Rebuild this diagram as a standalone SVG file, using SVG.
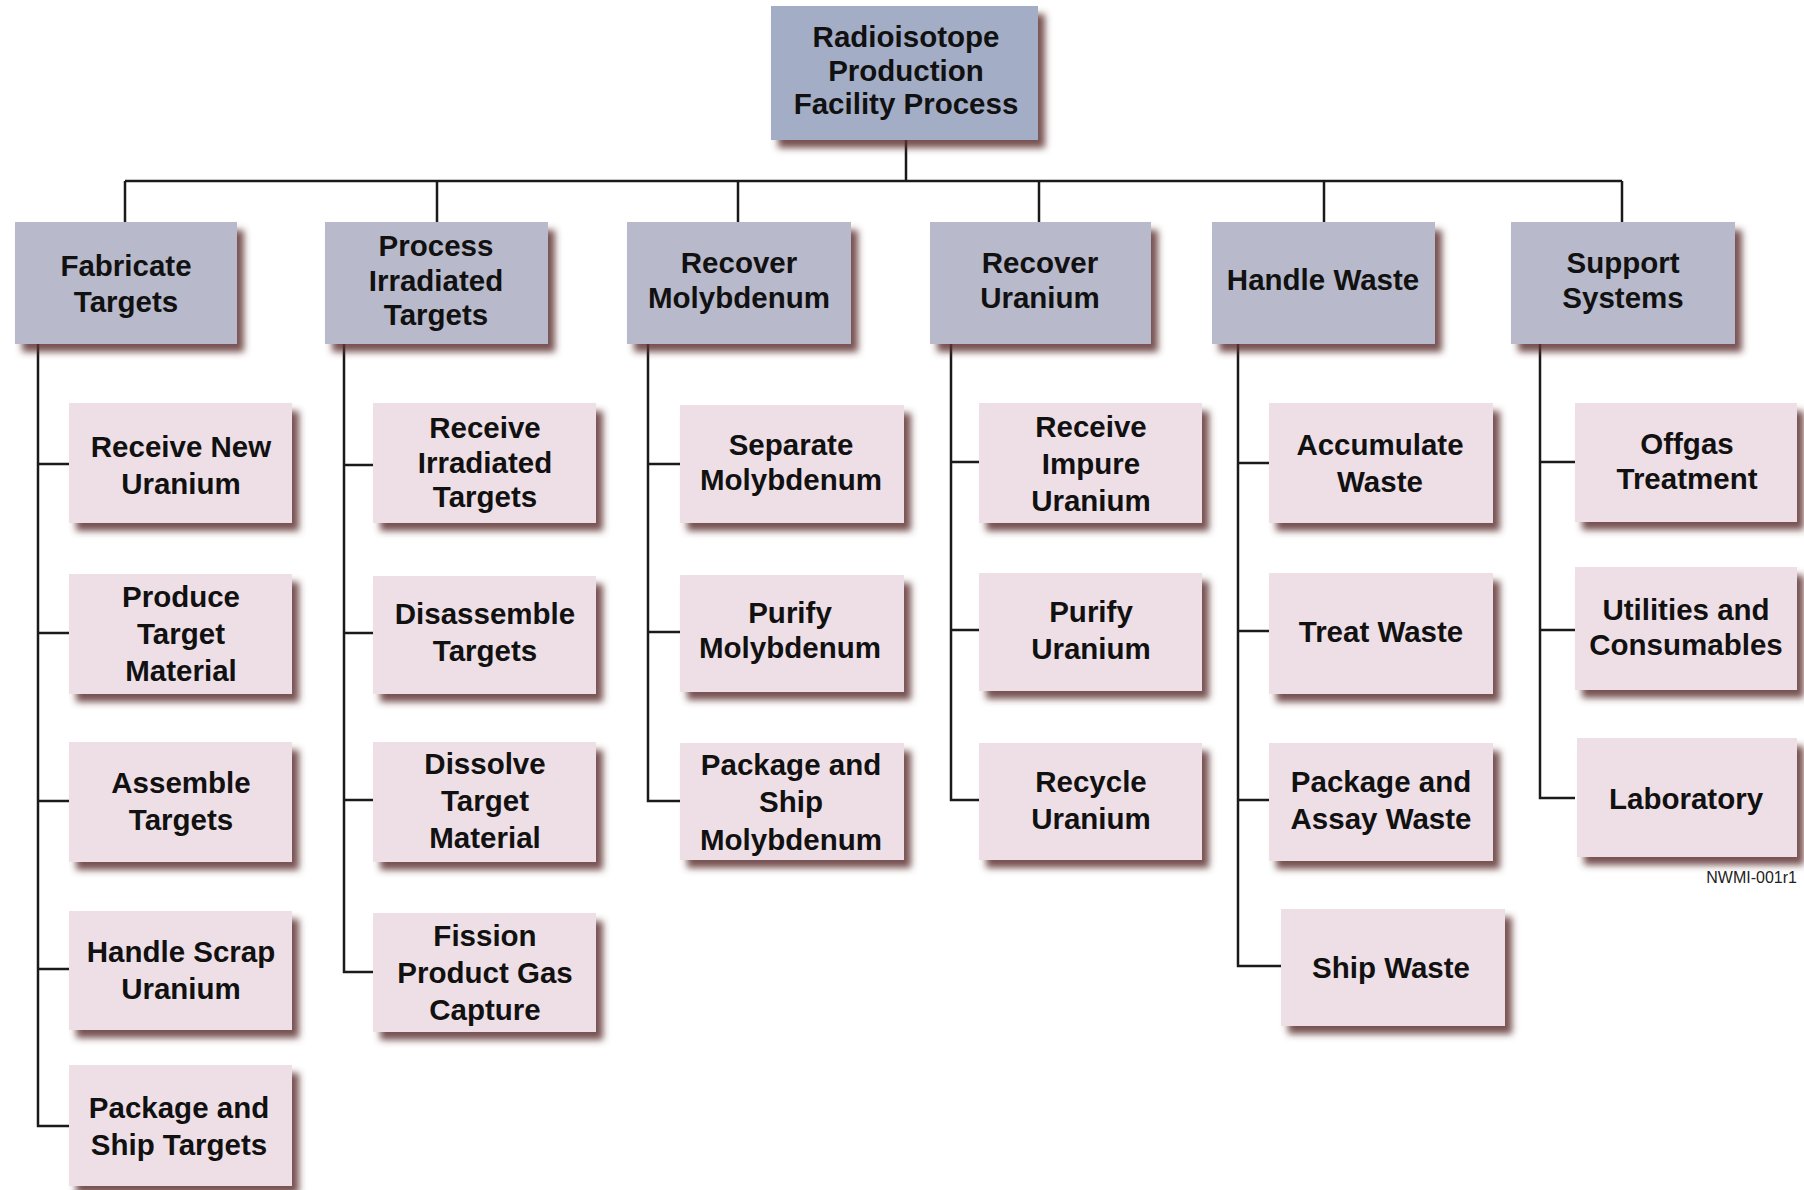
<svg xmlns="http://www.w3.org/2000/svg" width="1804" height="1190" viewBox="0 0 1804 1190">
<defs>
<filter id="sh" x="-10%" y="-10%" width="125%" height="130%">
<feDropShadow dx="7" dy="8" stdDeviation="3.5" flood-color="#5e3033" flood-opacity="0.85"/>
</filter>
<style>
.root{fill:#a4adc6;filter:url(#sh)}
.l1{fill:#b8b9cb;filter:url(#sh)}
.l2{fill:#eedfe6;filter:url(#sh)}
text{font-family:"Liberation Sans",Arial,sans-serif;font-weight:bold;font-size:29.5px;fill:#111111;text-anchor:middle}
.ref{font-weight:normal;font-size:16px;text-anchor:end;fill:#222}
.c{fill:none;stroke:#1a1a1a;stroke-width:2.5}
</style>
</defs>
<rect width="1804" height="1190" fill="#ffffff"/>
<g id="connectors">
<path class="c" d="M906 140V181M125 181H1622M125 181V222M437 181V222M738 181V222M1039 181V222M1324 181V222M1622 181V222"/>
<path class="c" d="M38 344V1126H69M38 464H69M38 633H69M38 801H69M38 969H69"/>
<path class="c" d="M344 344V972H373M344 465H373M344 633H373M344 800H373"/>
<path class="c" d="M648 344V801H680M648 464H680M648 632H680"/>
<path class="c" d="M951 344V800H979M951 462H979M951 630H979"/>
<path class="c" d="M1238 344V966H1281M1238 463H1269M1238 631H1269M1238 800H1269"/>
<path class="c" d="M1540 344V798H1575M1540 462H1575M1540 630H1575"/>
</g>
<g id="root"><rect class="root" x="771" y="6" width="267" height="134"/><text x="906"><tspan x="906" y="47">Radioisotope</tspan><tspan x="906" y="81">Production</tspan><tspan x="906" y="114">Facility Process</tspan></text></g>

<g id="fabricate"><rect class="l1" x="15" y="222" width="222" height="122"/><text><tspan x="126" y="276">Fabricate</tspan><tspan x="126" y="312">Targets</tspan></text></g>
<g id="process"><rect class="l1" x="325" y="222" width="223" height="122"/><text><tspan x="436" y="256">Process</tspan><tspan x="436" y="291">Irradiated</tspan><tspan x="436" y="325">Targets</tspan></text></g>
<g id="recover-mo"><rect class="l1" x="627" y="222" width="224" height="122"/><text><tspan x="739" y="273">Recover</tspan><tspan x="739" y="308">Molybdenum</tspan></text></g>
<g id="recover-u"><rect class="l1" x="930" y="222" width="221" height="122"/><text><tspan x="1040" y="273">Recover</tspan><tspan x="1040" y="308">Uranium</tspan></text></g>
<g id="handle-waste"><rect class="l1" x="1212" y="222" width="223" height="122"/><text><tspan x="1323" y="290">Handle Waste</tspan></text></g>
<g id="support"><rect class="l1" x="1511" y="222" width="224" height="122"/><text><tspan x="1623" y="273">Support</tspan><tspan x="1623" y="308">Systems</tspan></text></g>

<g id="receive-new-uranium"><rect class="l2" x="69" y="403" width="223" height="120"/><text><tspan x="181" y="457">Receive New</tspan><tspan x="181" y="494">Uranium</tspan></text></g>
<g id="produce-target-material"><rect class="l2" x="69" y="574" width="223" height="120"/><text><tspan x="181" y="607">Produce</tspan><tspan x="181" y="644">Target</tspan><tspan x="181" y="681">Material</tspan></text></g>
<g id="assemble-targets"><rect class="l2" x="69" y="742" width="223" height="120"/><text><tspan x="181" y="793">Assemble</tspan><tspan x="181" y="830">Targets</tspan></text></g>
<g id="handle-scrap-uranium"><rect class="l2" x="69" y="911" width="223" height="119"/><text><tspan x="181" y="962">Handle Scrap</tspan><tspan x="181" y="999">Uranium</tspan></text></g>
<g id="package-ship-targets"><rect class="l2" x="69" y="1065" width="223" height="121"/><text><tspan x="179" y="1118">Package and</tspan><tspan x="179" y="1155">Ship Targets</tspan></text></g>

<g id="receive-irradiated-targets"><rect class="l2" x="373" y="403" width="223" height="120"/><text><tspan x="485" y="438">Receive</tspan><tspan x="485" y="473">Irradiated</tspan><tspan x="485" y="507">Targets</tspan></text></g>
<g id="disassemble-targets"><rect class="l2" x="373" y="576" width="223" height="118"/><text><tspan x="485" y="624">Disassemble</tspan><tspan x="485" y="661">Targets</tspan></text></g>
<g id="dissolve-target-material"><rect class="l2" x="373" y="742" width="223" height="120"/><text><tspan x="485" y="774">Dissolve</tspan><tspan x="485" y="811">Target</tspan><tspan x="485" y="848">Material</tspan></text></g>
<g id="fission-product-gas-capture"><rect class="l2" x="373" y="913" width="223" height="119"/><text><tspan x="485" y="946">Fission</tspan><tspan x="485" y="983">Product Gas</tspan><tspan x="485" y="1020">Capture</tspan></text></g>

<g id="separate-molybdenum"><rect class="l2" x="680" y="405" width="224" height="118"/><text><tspan x="791" y="455">Separate</tspan><tspan x="791" y="490">Molybdenum</tspan></text></g>
<g id="purify-molybdenum"><rect class="l2" x="680" y="575" width="224" height="117"/><text><tspan x="790" y="623">Purify</tspan><tspan x="790" y="658">Molybdenum</tspan></text></g>
<g id="package-ship-molybdenum"><rect class="l2" x="680" y="743" width="224" height="117"/><text><tspan x="791" y="775">Package and</tspan><tspan x="791" y="812">Ship</tspan><tspan x="791" y="850">Molybdenum</tspan></text></g>

<g id="receive-impure-uranium"><rect class="l2" x="979" y="403" width="223" height="120"/><text><tspan x="1091" y="437">Receive</tspan><tspan x="1091" y="474">Impure</tspan><tspan x="1091" y="511">Uranium</tspan></text></g>
<g id="purify-uranium"><rect class="l2" x="979" y="573" width="223" height="118"/><text><tspan x="1091" y="622">Purify</tspan><tspan x="1091" y="659">Uranium</tspan></text></g>
<g id="recycle-uranium"><rect class="l2" x="979" y="743" width="223" height="117"/><text><tspan x="1091" y="792">Recycle</tspan><tspan x="1091" y="829">Uranium</tspan></text></g>

<g id="accumulate-waste"><rect class="l2" x="1269" y="403" width="224" height="120"/><text><tspan x="1380" y="455">Accumulate</tspan><tspan x="1380" y="492">Waste</tspan></text></g>
<g id="treat-waste"><rect class="l2" x="1269" y="573" width="224" height="121"/><text><tspan x="1381" y="642">Treat Waste</tspan></text></g>
<g id="package-assay-waste"><rect class="l2" x="1269" y="743" width="224" height="118"/><text><tspan x="1381" y="792">Package and</tspan><tspan x="1381" y="829">Assay Waste</tspan></text></g>
<g id="ship-waste"><rect class="l2" x="1281" y="909" width="224" height="117"/><text><tspan x="1391" y="978">Ship Waste</tspan></text></g>

<g id="offgas-treatment"><rect class="l2" x="1575" y="403" width="222" height="119"/><text><tspan x="1687" y="454">Offgas</tspan><tspan x="1687" y="489">Treatment</tspan></text></g>
<g id="utilities-consumables"><rect class="l2" x="1575" y="567" width="222" height="123"/><text><tspan x="1686" y="620">Utilities and</tspan><tspan x="1686" y="655">Consumables</tspan></text></g>
<g id="laboratory"><rect class="l2" x="1577" y="738" width="220" height="119"/><text><tspan x="1686" y="809">Laboratory</tspan></text></g>

<text class="ref" x="1797" y="883">NWMI-001r1</text>
</svg>
